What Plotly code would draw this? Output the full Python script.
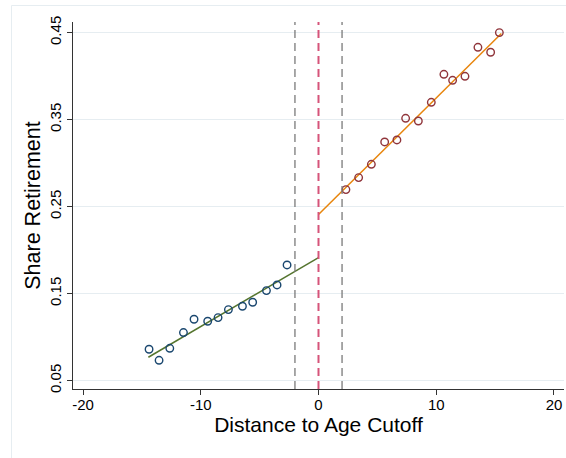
import plotly.graph_objects as go

# Binned means below and above the age cutoff
left_x = [-14.39, -13.54, -12.63, -11.47, -10.57, -9.41, -8.53, -7.65, -6.46, -5.59, -4.42, -3.52, -2.67]
left_y = [0.0860, 0.0733, 0.0871, 0.1052, 0.1205, 0.1182, 0.1224, 0.1316, 0.1354, 0.1400, 0.1534, 0.1599, 0.1829]

right_x = [2.33, 3.41, 4.49, 5.62, 6.66, 7.40, 8.48, 9.58, 10.65, 11.39, 12.44, 13.54, 14.62, 15.36]
right_y = [0.2695, 0.2833, 0.2986, 0.3243, 0.3266, 0.3515, 0.3484, 0.3699, 0.4021, 0.3952, 0.3998, 0.4331, 0.4274, 0.4500]

# Linear fits on each side of the cutoff
fit_left_x = [-14.45, 0.0]
fit_left_y = [0.0768, 0.1914]
fit_right_x = [0.0, 15.53]
fit_right_y = [0.2408, 0.4489]

cutoff = 0
band_edges = [-2, 2]

x_ticks = [-20, -10, 0, 10, 20]
x_tick_labels = ["-20", "-10", "0", "10", "20"]
y_ticks = [0.05, 0.15, 0.25, 0.35, 0.45]
y_tick_labels = ["0.05", "0.15", "0.25", "0.35", "0.45"]

FONT = "Liberation Sans, Arial, sans-serif"
W, H = 566, 458
ML, MR, MT, MB = 73, 2, 22, 69
PW, PH = W - ML - MR, H - MT - MB


def px_x(p):
    return (p - ML) / PW


def px_y(p):
    return (H - MB - p) / PH


fig = go.Figure()

fig.add_trace(go.Scatter(
    x=fit_left_x, y=fit_left_y, mode="lines",
    line=dict(color="#55752f", width=1.5), hoverinfo="skip"))
fig.add_trace(go.Scatter(
    x=fit_right_x, y=fit_right_y, mode="lines",
    line=dict(color="#e8850c", width=1.5), hoverinfo="skip"))

fig.add_trace(go.Scatter(
    x=left_x, y=left_y, mode="markers",
    marker=dict(symbol="circle-open", size=7.5, color="#1a476f", line=dict(width=1.4))))
fig.add_trace(go.Scatter(
    x=right_x, y=right_y, mode="markers",
    marker=dict(symbol="circle-open", size=7.5, color="#90353b", line=dict(width=1.4))))

for xe in band_edges:
    fig.add_shape(type="line", xref="x", yref="paper", x0=xe, x1=xe, y0=0, y1=1,
                  line=dict(color="#7a7a7a", width=1.3, dash="8px,5px"))
fig.add_shape(type="line", xref="x", yref="paper", x0=cutoff, x1=cutoff, y0=0, y1=1,
              line=dict(color="#d6547a", width=2, dash="8px,5px"))

# thin outer frame of the graph region
fig.add_shape(type="rect", xref="paper", yref="paper", layer="below",
              x0=px_x(11.5), x1=px_x(W + 5), y0=px_y(H + 5), y1=px_y(5.5),
              line=dict(color="#e6edf1", width=1), fillcolor="rgba(0,0,0,0)")

fig.update_layout(
    width=W, height=H,
    margin=dict(l=ML, r=MR, t=MT, b=MB, pad=0),
    paper_bgcolor="white", plot_bgcolor="white",
    showlegend=False,
    font=dict(family=FONT, color="black"),
)

fig.update_xaxes(
    range=[-20.85, 20.85], tickvals=x_ticks, ticktext=x_tick_labels,
    showgrid=False, zeroline=False,
    showline=True, linecolor="#333333", linewidth=1,
    ticks="outside", ticklen=5, tickcolor="#333333", tickwidth=1,
    ticklabelstandoff=-3,
    tickfont=dict(size=15, family=FONT),
    title=dict(text="Distance to Age Cutoff", font=dict(size=21, family=FONT), standoff=2),
    automargin=False,
)
fig.update_yaxes(
    range=[0.0403, 0.4622], tickvals=y_ticks, ticktext=y_tick_labels,
    tickangle=-90,
    showgrid=True, gridcolor="#e6edf1", gridwidth=1, zeroline=False,
    showline=True, linecolor="#333333", linewidth=1,
    ticks="outside", ticklen=5, tickcolor="#333333", tickwidth=1,
    tickfont=dict(size=15, family=FONT),
    title=dict(text="Share Retirement", font=dict(size=21.5, family=FONT), standoff=0),
    automargin=False,
)

fig.write_html("out.html")
